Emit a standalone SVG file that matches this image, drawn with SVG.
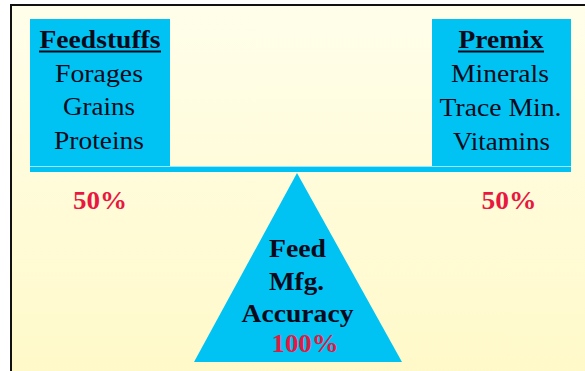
<svg xmlns="http://www.w3.org/2000/svg" width="585" height="371" viewBox="0 0 585 371">
<defs>
<linearGradient id="bg" x1="0" y1="0" x2="0" y2="1">
<stop offset="0" stop-color="#FFFEEA"/>
<stop offset="1" stop-color="#FFF9C8"/>
</linearGradient>
<style>
.box{fill:#00C3F3}
.t{font-family:"Liberation Serif","Times New Roman",serif;font-size:25px;fill:#0A0A1A;text-anchor:middle}
.b{font-weight:bold}
.tri{font-size:26px}
.r{fill:#E8173F;font-weight:bold}
</style>
</defs>
<rect width="585" height="371" fill="#FFFFFF"/>
<rect x="11" y="5" width="590" height="380" fill="url(#bg)" stroke="#111" stroke-width="2"/>
<g id="feedstuffs">
<rect class="box" x="30" y="19" width="140" height="147"/>
<text class="t b" x="100" y="48" textLength="121" lengthAdjust="spacingAndGlyphs">Feedstuffs</text>
<rect x="39" y="50.5" width="122" height="2" fill="#0A0A1A"/>
<text class="t" x="99" y="82" textLength="88" lengthAdjust="spacingAndGlyphs">Forages</text>
<text class="t" x="99" y="115" textLength="72" lengthAdjust="spacingAndGlyphs">Grains</text>
<text class="t" x="99" y="149" textLength="90" lengthAdjust="spacingAndGlyphs">Proteins</text>
</g>
<g id="premix">
<rect class="box" x="432" y="19" width="139" height="147"/>
<text class="t b" x="501" y="48" textLength="85" lengthAdjust="spacingAndGlyphs">Premix</text>
<rect x="458" y="50.5" width="86" height="2" fill="#0A0A1A"/>
<text class="t" x="500" y="82" textLength="98" lengthAdjust="spacingAndGlyphs">Minerals</text>
<text class="t" x="500.5" y="116" textLength="122" lengthAdjust="spacingAndGlyphs">Trace Min.</text>
<text class="t" x="501.5" y="150" textLength="97" lengthAdjust="spacingAndGlyphs">Vitamins</text>
</g>
<g id="beam">
<rect class="box" x="30" y="166" width="541" height="6"/>
<rect x="30" y="166" width="541" height="1" fill="#9FE6FA"/>
</g>
<g id="fulcrum">
<polygon class="box" points="297,173 402,362 194,362"/>
<text class="t b tri" x="297.5" y="257" textLength="57" lengthAdjust="spacingAndGlyphs">Feed</text>
<text class="t b tri" x="296.5" y="290" textLength="55" lengthAdjust="spacingAndGlyphs">Mfg.</text>
<text class="t b tri" x="297.5" y="322" textLength="112" lengthAdjust="spacingAndGlyphs">Accuracy</text>
<text class="t r" x="305" y="352" textLength="67" lengthAdjust="spacingAndGlyphs">100%</text>
</g>
<g id="labels">
<text class="t r" x="100" y="209" textLength="54" lengthAdjust="spacingAndGlyphs">50%</text>
<text class="t r" x="509" y="209" textLength="55" lengthAdjust="spacingAndGlyphs">50%</text>
</g>
</svg>
